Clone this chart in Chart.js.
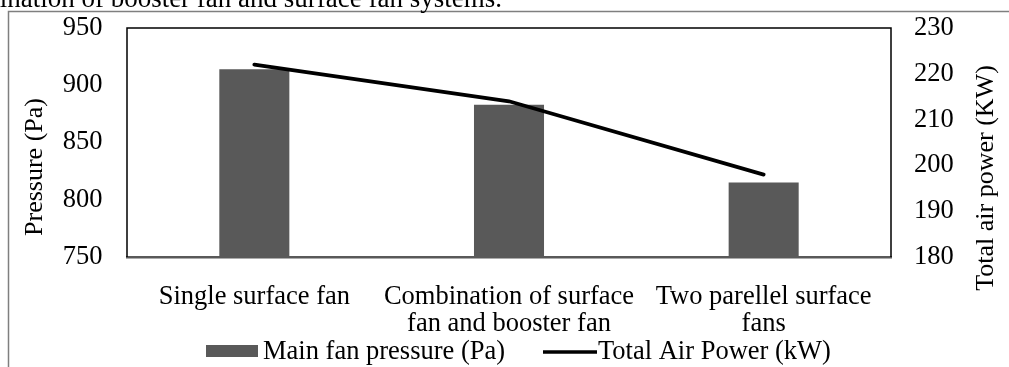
<!DOCTYPE html>
<html>
<head>
<meta charset="utf-8">
<title>Main fan pressure and total air power</title>
<script src="https://cdn.jsdelivr.net/npm/chart.js@4.4.1/dist/chart.umd.min.js"></script>
<style>
    html, body { margin: 0; padding: 0; background: #fff; }
    #wrap { position: relative; width: 1009px; height: 367px; }
</style>
</head>
<body>
<div id="wrap"><canvas id="chart"></canvas></div>
<script>
var categories = [
    'Single surface fan',
    ['Combination of surface', 'fan and booster fan'],
    ['Two parellel surface', 'fans']
];
var mainFanPressure = [914, 883, 815];
var totalAirPower = [222, 214, 198];
var pressureTicks = [750, 800, 850, 900, 950];
var powerTicks = [180, 190, 200, 210, 220, 230];
var seriesNames = ['Main fan pressure (Pa)', 'Total Air Power (kW)'];
var axisTitles = ['Pressure (Pa)', 'Total air power (KW)'];
var captionText = 'Combination of booster fan and surface fan systems.';

(function () {
    var FONT = '"Liberation Serif", "Times New Roman", serif';
    Chart.defaults.font.family = FONT;
    Chart.defaults.color = '#000';

    function fixedTicks(list) {
        return function (scale) {
            scale.ticks = list.map(function (v) { return { value: v }; });
        };
    }

    function fixWidth(w) {
        return function (s) {
            s.width = w;
            s.paddingTop = 0;
            s.paddingBottom = 0;
        };
    }

    // figure frame, plot border, caption, axis titles and legend
    var decorPlugin = {
        id: 'decor',
        afterDraw: function (chart) {
            var ctx = chart.ctx;
            var a = chart.chartArea;
            var ds = chart.data.datasets;
            ctx.save();

            ctx.strokeStyle = '#7f7f7f';
            ctx.lineWidth = 1.5;
            ctx.beginPath();
            ctx.moveTo(8.5, 367);
            ctx.lineTo(8.5, 11.5);
            ctx.lineTo(1009, 11.5);
            ctx.stroke();

            ctx.strokeStyle = '#000';
            ctx.lineWidth = 1.5;
            ctx.beginPath();
            ctx.moveTo(a.left, a.bottom);
            ctx.lineTo(a.left, a.top);
            ctx.lineTo(a.right, a.top);
            ctx.lineTo(a.right, a.bottom);
            ctx.stroke();

            ctx.fillStyle = '#000';
            ctx.font = '27px ' + FONT;
            ctx.textBaseline = 'alphabetic';
            ctx.textAlign = 'right';
            ctx.fillText(captionText, 502, 7);

            ctx.font = '26px ' + FONT;
            ctx.textAlign = 'center';
            ctx.save();
            ctx.translate(41.5, 167);
            ctx.rotate(-Math.PI / 2);
            ctx.fillText(axisTitles[0], 0, 0);
            ctx.restore();
            ctx.save();
            ctx.translate(993, 178);
            ctx.rotate(-Math.PI / 2);
            ctx.fillText(axisTitles[1], 0, 0);
            ctx.restore();

            ctx.font = '26.5px ' + FONT;
            ctx.textAlign = 'left';
            ctx.fillStyle = ds[0].backgroundColor;
            ctx.fillRect(206, 345, 52, 12);
            ctx.fillStyle = '#000';
            ctx.fillText(ds[0].label, 263, 359);

            ctx.strokeStyle = ds[1].borderColor;
            ctx.lineWidth = 3.5;
            ctx.beginPath();
            ctx.moveTo(543, 352);
            ctx.lineTo(597, 352);
            ctx.stroke();
            ctx.fillText(ds[1].label, 598, 359);

            ctx.restore();
        }
    };

    new Chart(document.getElementById('chart').getContext('2d'), {
        data: {
            labels: categories,
            datasets: [
                {
                    type: 'bar',
                    label: seriesNames[0],
                    data: mainFanPressure,
                    backgroundColor: '#595959',
                    borderWidth: 0,
                    barPercentage: 0.275,
                    categoryPercentage: 1,
                    yAxisID: 'y',
                    order: 1
                },
                {
                    type: 'line',
                    label: seriesNames[1],
                    data: totalAirPower,
                    borderColor: '#000',
                    backgroundColor: '#000',
                    borderWidth: 3.8,
                    borderCapStyle: 'round',
                    pointRadius: 0,
                    tension: 0,
                    fill: false,
                    yAxisID: 'y1',
                    order: 0
                }
            ]
        },
        options: {
            responsive: true,
            maintainAspectRatio: false,
            animation: false,
            layout: { padding: { top: 28, left: 0, right: 0, bottom: 0 } },
            plugins: {
                legend: { display: false },
                tooltip: { enabled: false }
            },
            scales: {
                x: {
                    grid: { display: false, drawTicks: false },
                    border: { color: '#595959', width: 2.5 },
                    ticks: {
                        padding: 27,
                        maxRotation: 0,
                        autoSkip: false,
                        font: { size: 26.5, lineHeight: 1 }
                    },
                    afterFit: function (s) {
                        s.height = 110;
                        s.paddingLeft = 0;
                        s.paddingRight = 0;
                    }
                },
                y: {
                    position: 'left',
                    min: pressureTicks[0],
                    max: pressureTicks[pressureTicks.length - 1],
                    grid: { display: false, drawTicks: false },
                    border: { display: false },
                    ticks: { padding: 24.5, font: { size: 26.5 } },
                    afterBuildTicks: fixedTicks(pressureTicks),
                    afterFit: fixWidth(127)
                },
                y1: {
                    position: 'right',
                    min: powerTicks[0],
                    max: powerTicks[powerTicks.length - 1],
                    grid: { display: false, drawTicks: false },
                    border: { display: false },
                    ticks: { padding: 23, font: { size: 26.5 } },
                    afterBuildTicks: fixedTicks(powerTicks),
                    afterFit: fixWidth(118)
                }
            }
        },
        plugins: [decorPlugin]
    });
})();
</script>
</body>
</html>
